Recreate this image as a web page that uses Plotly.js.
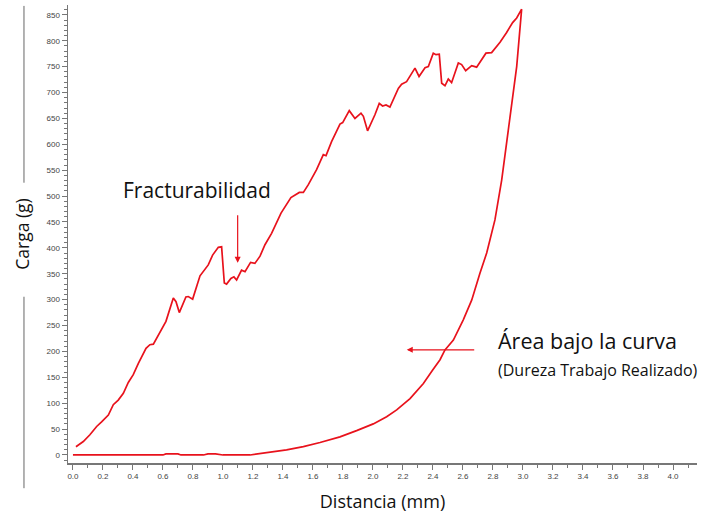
<!DOCTYPE html>
<html>
<head>
<meta charset="utf-8">
<script src="https://cdn.plot.ly/plotly-3.0.1.min.js"></script>
<style>html,body{margin:0;padding:0;background:#fff;}#chart{width:717px;height:517px;}</style>
</head>
<body>
<div id="chart"></div>
<script>
// Compression (loading) phase: distance (mm) and load (g)
const loadDist = [0.02,0.069,0.113,0.158,0.191,0.236,0.269,0.302,0.336,0.369,0.402,0.436,0.487,0.513,0.536,0.58,0.62,0.669,0.687,0.709,0.753,0.769,0.798,0.847,0.88,0.902,0.931,0.969,0.991,1.009,1.024,1.053,1.073,1.091,1.124,1.147,1.184,1.213,1.247,1.28,1.324,1.387,1.453,1.509,1.536,1.569,1.624,1.669,1.687,1.724,1.78,1.798,1.842,1.88,1.92,1.936,1.964,2.013,2.042,2.064,2.087,2.113,2.169,2.191,2.224,2.28,2.307,2.347,2.369,2.402,2.42,2.442,2.458,2.48,2.502,2.524,2.569,2.591,2.618,2.658,2.691,2.724,2.753,2.791,2.847,2.891,2.931,2.958,2.991];
const loadForce = [16,26,39,55,64,77,97,106,119,140,155,177,206,213,214,238,258,303,296,275,305,306,301,346,359,367,386,401,402,332,330,341,344,338,357,354,372,370,384,406,428,467,497,507,507,522,551,580,578,605,639,642,665,650,660,654,626,657,679,674,676,672,708,716,721,747,731,748,750,776,773,774,718,713,726,719,757,754,742,752,749,763,776,777,797,816,835,844,861];
// Withdrawal (unloading) phase
const unloadDist = [2.991,2.958,2.924,2.891,2.858,2.813,2.758,2.713,2.658,2.602,2.536,2.48,2.447,2.398,2.336,2.247,2.158,2.091,2.002,1.891,1.78,1.647,1.536,1.424,1.313,1.18,1.0,0.98,0.95,0.9,0.87,0.72,0.7,0.62,0.6,0.0];
const unloadForce = [861,750,673,596,531,454,390,351,299,261,222,203,184,164,138,109,87,74,60,47,35,24,16,10,5,0,0,1,2,2,0,0,2,2,0,0];

const xTitle = 'Distancia (mm)';
const yTitle = 'Carga (g)';
const labelFract = 'Fracturabilidad';
const labelArea = 'Área bajo la curva';
const labelArea2 = '(Dureza Trabajo Realizado)';

const red = '#e8121c';
const tickFont = {family: 'Liberation Sans, Arial, sans-serif', size: 8, color: '#444'};
const textFont = 'Open Sans, Noto Sans, sans-serif';

const trace = {
  x: loadDist.concat(unloadDist.slice(1)),
  y: loadForce.concat(unloadForce.slice(1)),
  type: 'scatter', mode: 'lines',
  line: {color: red, width: 1.7},
  hoverinfo: 'skip'
};

const layout = {
  width: 717, height: 517,
  margin: {l: 68, r: 20, t: 5, b: 54},
  paper_bgcolor: '#fff', plot_bgcolor: '#fff',
  showlegend: false,
  xaxis: {
    range: [-0.033, 4.16], dtick: 0.2, tick0: 0, tickformat: '.1f',
    showgrid: false, zeroline: false,
    showline: true, linecolor: '#777', linewidth: 1.5,
    ticks: 'outside', ticklen: 5, tickcolor: '#777', tickwidth: 1,
    minor: {dtick: 0.1, ticks: 'outside', ticklen: 3, tickcolor: '#777', showgrid: false},
    tickfont: tickFont,
    title: {text: xTitle, font: {family: textFont, size: 18, color: '#111'}, standoff: 15}
  },
  yaxis: {
    range: [-15.5, 869], dtick: 50, tick0: 0,
    showgrid: false, zeroline: false,
    showline: true, linecolor: '#777', linewidth: 1.5,
    ticks: 'outside', ticklen: 5, tickcolor: '#777', tickwidth: 1,
    minor: {dtick: 10, ticks: 'outside', ticklen: 3, tickcolor: '#777', showgrid: false},
    tickfont: tickFont,
    title: {text: yTitle, font: {family: textFont, size: 17.5, color: '#111'}, standoff: 12}
  },
  shapes: [
    {type: 'line', xref: 'paper', yref: 'paper', x0: -0.07, x1: -0.07, y0: 0.998, y1: 0.612, line: {color: '#666', width: 1}},
    {type: 'line', xref: 'paper', yref: 'paper', x0: -0.07, x1: -0.07, y0: 0.363, y1: -0.055, line: {color: '#666', width: 1}}
  ],
  annotations: [
    {x: 0.83, y: 512, xref: 'x', yref: 'y', text: labelFract, showarrow: false,
     font: {family: textFont, size: 21, color: '#111'}, xanchor: 'center', yanchor: 'middle'},
    {x: 1.098, y: 371, xref: 'x', yref: 'y', text: '', showarrow: true, ax: 0, ay: -49,
     arrowcolor: red, arrowwidth: 1.2, arrowhead: 2, arrowsize: 1},
    {x: 2.82, y: 222, xref: 'x', yref: 'y', text: labelArea, showarrow: false,
     font: {family: textFont, size: 21.5, color: '#111'}, xanchor: 'left', yanchor: 'middle'},
    {x: 2.82, y: 164, xref: 'x', yref: 'y', text: labelArea2, showarrow: false,
     font: {family: textFont, size: 16, color: '#111'}, xanchor: 'left', yanchor: 'middle'},
    {x: 2.225, y: 203, xref: 'x', yref: 'y', text: '', showarrow: true, ax: 69, ay: 0,
     arrowcolor: red, arrowwidth: 1.2, arrowhead: 2, arrowsize: 1}
  ]
};

Plotly.newPlot('chart', [trace], layout, {displayModeBar: false, staticPlot: true});
</script>
</body>
</html>
